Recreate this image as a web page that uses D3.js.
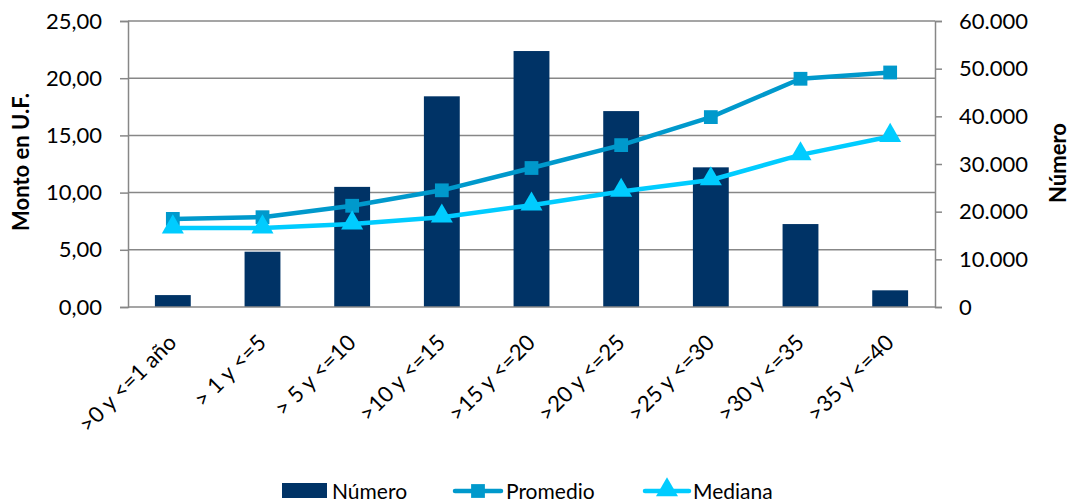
<!DOCTYPE html>
<html><head><meta charset="utf-8">
<script src="https://cdn.jsdelivr.net/npm/d3@7"></script>
<style>body{margin:0;background:#fff}svg{display:block}text{font-family:Lato,"Open Sans",sans-serif;fill:#000}</style>
</head><body><svg id="c" width="1072" height="504"></svg>
<script>
const categories = [">0 y <=1 año","> 1 y <=5","> 5 y <=10",">10 y <=15",">15 y <=20",">20 y <=25",">25 y <=30",">30 y <=35",">35 y <=40"];
const numero = [2500, 11600, 25200, 44200, 53700, 41100, 29300, 17400, 3500];
const promedio = [7.7, 7.85, 8.85, 10.2, 12.15, 14.15, 16.6, 19.95, 20.5];
const mediana = [6.9, 6.9, 7.25, 7.85, 8.9, 10.1, 11.1, 13.3, 14.9];
const leftTicks = [0,5,10,15,20,25];
const rightTicks = [0,10000,20000,30000,40000,50000,60000];

const svg = d3.select("#c");
const L=128,R=935,T=21,B=307;
const x = d3.scaleBand().domain(categories).range([L,R]).paddingInner(0.6).paddingOuter(0.3);
const xc = d => x(d)+x.bandwidth()/2;
const yL = d3.scaleLinear().domain([0,25]).range([B,T]);
const yR = d3.scaleLinear().domain([0,60000]).range([B,T]);
const grid="#878787";
const FS=22;

// gridlines
svg.append("g").selectAll("line").data(leftTicks.slice(1)).join("line")
  .attr("x1",L).attr("x2",R).attr("y1",d=>yL(d)).attr("y2",d=>yL(d)).attr("stroke",grid).attr("stroke-width",1.5);

// bars
svg.append("g").selectAll("rect").data(numero).join("rect")
  .attr("x",(d,i)=>x(categories[i])).attr("width",x.bandwidth())
  .attr("y",d=>yR(d)).attr("height",d=>B-yR(d)).attr("fill","#003366");

// axes
const fmtL = d3.format(".2f");
const axL = d3.axisLeft(yL).tickValues(leftTicks).tickSize(8).tickPadding(18).tickFormat(d=>fmtL(d).replace(".",","));
const axR = d3.axisRight(yR).tickValues(rightTicks).tickSize(7).tickPadding(17).tickFormat(d=>d3.format(",")(d).replace(/,/g,"."));
const gL = svg.append("g").attr("transform",`translate(${L},0)`).call(axL);
const gR = svg.append("g").attr("transform",`translate(${R},0)`).call(axR);
[gL,gR].forEach(g=>{g.select(".domain").attr("stroke",grid).attr("stroke-width",1.5);
  g.selectAll(".tick line").attr("stroke",grid).attr("stroke-width",1.5);
  g.selectAll(".tick text").attr("font-size",FS).attr("font-family","Lato").attr("fill","#000");});
svg.append("line").attr("x1",L).attr("x2",R).attr("y1",B).attr("y2",B).attr("stroke",grid).attr("stroke-width",1.5);

// x labels
svg.append("g").selectAll("text").data(categories).join("text")
  .attr("transform",d=>`translate(${xc(d)+5},${B+37}) rotate(-45)`)
  .attr("text-anchor","end").attr("font-size",FS).text(d=>d);

// lines
const line = yScale => d3.line().x((d,i)=>xc(categories[i])).y(d=>yScale(d));
svg.append("path").datum(promedio).attr("d",line(yL)).attr("fill","none").attr("stroke","#0099CC").attr("stroke-width",4.5).attr("stroke-linejoin","round");
svg.append("path").datum(mediana).attr("d",line(yL)).attr("fill","none").attr("stroke","#00CCFF").attr("stroke-width",4.5).attr("stroke-linejoin","round");
const sq = d3.symbol().type(d3.symbolSquare).size(190);
const tri = d3.symbol().type(d3.symbolTriangle).size(210);
svg.append("g").selectAll("path").data(promedio).join("path")
  .attr("d",sq).attr("transform",(d,i)=>`translate(${xc(categories[i])},${yL(d)})`).attr("fill","#0099CC");
svg.append("g").selectAll("path").data(mediana).join("path")
  .attr("d",tri).attr("transform",(d,i)=>`translate(${xc(categories[i])},${yL(d)-1})`).attr("fill","#00CCFF");

// axis titles
svg.append("text").attr("transform",`translate(29,162) rotate(-90)`).attr("text-anchor","middle")
  .attr("font-size",22).attr("font-weight","bold").text("Monto en U.F.");
svg.append("text").attr("transform",`translate(1066,163) rotate(-90)`).attr("text-anchor","middle")
  .attr("font-size",22).attr("font-weight","bold").text("Número");

// legend
const lg = svg.append("g");
const ly = 491;
lg.append("rect").attr("x",282).attr("y",ly-8).attr("width",45).attr("height",15).attr("fill","#003366");
lg.append("text").attr("x",332).attr("y",ly).attr("dy","0.36em").attr("font-size",21).text("Número");
lg.append("line").attr("x1",455).attr("x2",501).attr("y1",ly).attr("y2",ly).attr("stroke","#0099CC").attr("stroke-width",4.5).attr("stroke-linecap","round");
lg.append("path").attr("d",sq).attr("transform",`translate(478,${ly})`).attr("fill","#0099CC");
lg.append("text").attr("x",506).attr("y",ly).attr("dy","0.36em").attr("font-size",21).text("Promedio");
lg.append("line").attr("x1",645).attr("x2",689).attr("y1",ly).attr("y2",ly).attr("stroke","#00CCFF").attr("stroke-width",4.5).attr("stroke-linecap","round");
lg.append("path").attr("d",tri).attr("transform",`translate(667,${ly-1})`).attr("fill","#00CCFF");
lg.append("text").attr("x",693).attr("y",ly).attr("dy","0.36em").attr("font-size",21).text("Mediana");
</script></body></html>
